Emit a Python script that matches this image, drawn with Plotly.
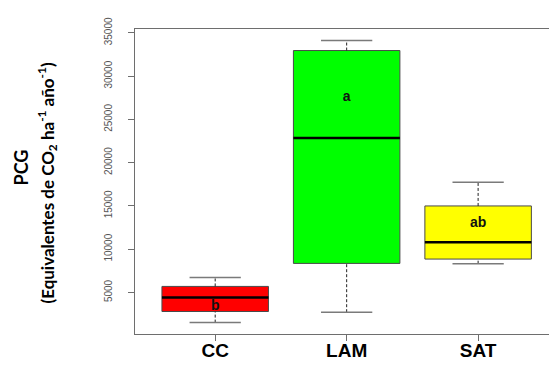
import plotly.graph_objects as go

# ---- data ----
categories = ["CC", "LAM", "SAT"]
q1 = [2800, 8360, 8860]
median = [4420, 22850, 10790]
q3 = [5700, 32960, 15000]
lower = [1520, 2720, 8330]
upper = [6740, 34120, 17750]
letters = ["b", "a", "ab"]
letter_y = [3380, 27480, 13000]
y_ticks = [5000, 10000, 15000, 20000, 25000, 30000, 35000]

# ---- style ----
box_colors = ["#ff0000", "#00ff00", "#ffff00"]
BOX_W = 0.81
CAP_HALF = 0.195
GREY = "#6e6e6e"

xs = list(range(len(categories)))
fig = go.Figure()

fig.add_trace(go.Bar(
    x=xs, base=q1, y=[b - a for a, b in zip(q1, q3)], width=BOX_W,
    marker=dict(color=box_colors, line=dict(color="#4a4a4a", width=1)),
    showlegend=False, hoverinfo="skip"))

# whiskers (dashed)
wx, wy = [], []
for i in xs:
    wx += [i, i, None, i, i, None]
    wy += [q3[i], upper[i], None, lower[i], q1[i], None]
fig.add_trace(go.Scatter(x=wx, y=wy, mode="lines",
                         line=dict(color="#222222", width=1, dash="3px,2px"),
                         showlegend=False, hoverinfo="skip"))

# caps
cx, cy = [], []
for i in xs:
    cx += [i - CAP_HALF, i + CAP_HALF, None, i - CAP_HALF, i + CAP_HALF, None]
    cy += [upper[i], upper[i], None, lower[i], lower[i], None]
fig.add_trace(go.Scatter(x=cx, y=cy, mode="lines",
                         line=dict(color="#7a7a7a", width=1.5),
                         showlegend=False, hoverinfo="skip"))

# medians
mx, my = [], []
for i in xs:
    mx += [i - BOX_W / 2, i + BOX_W / 2, None]
    my += [median[i], median[i], None]
fig.add_trace(go.Scatter(x=mx, y=my, mode="lines",
                         line=dict(color="#000000", width=2.5),
                         showlegend=False, hoverinfo="skip"))

# significance letters
fig.add_trace(go.Scatter(x=xs, y=letter_y, mode="text", text=letters,
                         textfont=dict(family="Liberation Sans", size=14, color="#111111", weight="bold"),
                         showlegend=False, hoverinfo="skip"))

fig.update_layout(
    width=557, height=374,
    margin=dict(l=127, r=8, t=21, b=48),
    paper_bgcolor="white", plot_bgcolor="white",
    xaxis=dict(range=[-0.61, 2.6], tickvals=xs, ticktext=categories,
               showgrid=False, zeroline=False,
               showline=True, mirror=True, linecolor=GREY, linewidth=1,
               ticks="outside", ticklen=6, tickcolor=GREY, ticklabelstandoff=-7,
               tickfont=dict(family="Liberation Sans", size=19, color="#000000", weight="bold")),
    yaxis=dict(range=[200, 35450], tickvals=y_ticks,
               ticktext=[str(v) for v in y_ticks], tickangle=-90,
               showgrid=False, zeroline=False,
               showline=True, mirror=True, linecolor=GREY, linewidth=1,
               ticks="outside", ticklen=6, tickcolor=GREY, ticklabelstandoff=12,
               tickfont=dict(family="Liberation Sans", size=10, color="#555555")),
    annotations=[
        dict(text="<b>PCG</b>", xref="paper", yref="paper", x=0, y=0.5,
             xanchor="center", yanchor="middle", xshift=-115, yshift=14,
             textangle=-90, showarrow=False,
             font=dict(family="Lato", size=18, color="#000000")),
        dict(text="<b>(Equivalentes de CO<sub>2</sub> ha<sup>-1</sup> año<sup>-1</sup>)</b>",
             xref="paper", yref="paper", x=0, y=0.5,
             xanchor="center", yanchor="middle", xshift=-88, yshift=-2,
             textangle=-90, showarrow=False,
             font=dict(family="Lato", size=17, color="#000000")),
    ],
)

fig.write_html("out.html")
